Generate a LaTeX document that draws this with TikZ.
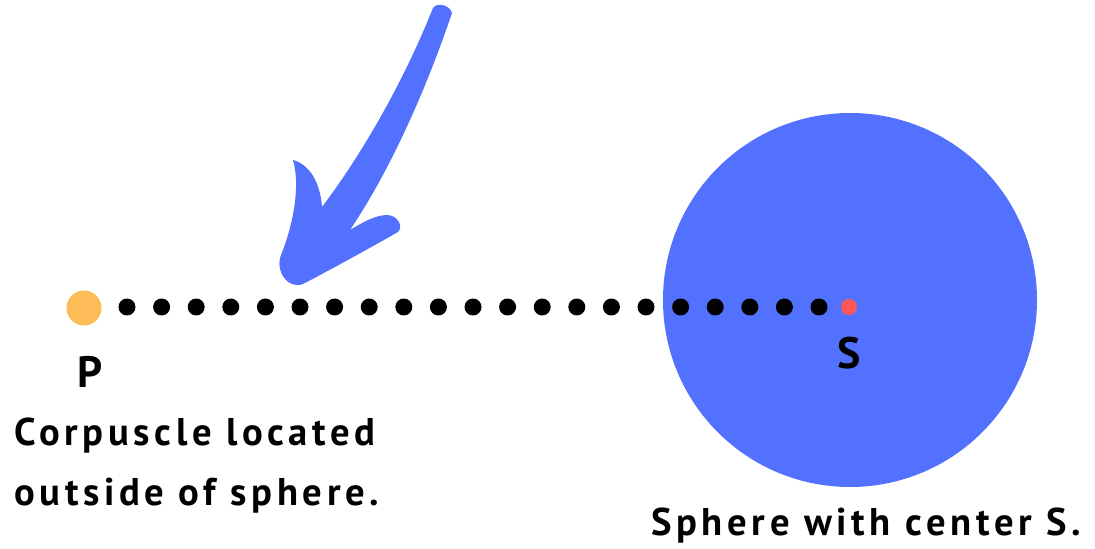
\documentclass[tikz,border=0pt]{standalone}
\usepackage{fontspec}
\setmainfont{PT Sans}[LetterSpace=12]
\usepackage{xcolor}
\usetikzlibrary{positioning}
\definecolor{sphereblue}{HTML}{5271FF}
\definecolor{corporange}{HTML}{FFBD59}
\definecolor{centrered}{HTML}{FF5757}

\begin{document}
\begin{tikzpicture}[x=0.02cm, y=0.02cm,
        corp/.style   ={circle, fill=corporange, inner sep=0pt, minimum size=0.70cm},
        centre/.style ={circle, fill=centrered, inner sep=0pt, minimum size=0.32cm},
        dotmark/.style={circle, fill=black, inner sep=0pt, minimum size=0.34cm},
        lbl/.style    ={font=\fontsize{25}{28}\selectfont\bfseries, inner sep=0pt},
        caption/.style={font=\fontsize{22}{25}\selectfont\bfseries, inner sep=0pt, anchor=base west},
    ]
        \useasboundingbox (0,0) rectangle (1095,548);

        % Sphere
        \fill[sphereblue] (850,248) circle (187);

        % Corpuscle and centre
        \node[corp]   (P) at (84,240)  {};
        \node[centre] (S) at (849,241) {};
        \node[lbl, below right=1.27cm and 0.12cm of P.center, anchor=center] (Plbl) {P};
        \node[lbl, below=0.92cm of S.center, anchor=center] (Slbl) {S};

        % Dotted path from P to S
        \foreach \i in {0,...,20}
            \node[dotmark] (d\i) at (127+34.6*\i,241) {};

        % Hand-drawn arrow
        \fill[sphereblue] (433,540) .. controls (405,470) and (365,398) .. (322,341)
            .. controls (320,368) and (308,384) .. (293,388)
            .. controls (301,360) and (292,320) .. (281,293)
            .. controls (275,278) and (287,258) .. (303,264)
            .. controls (330,278) and (370,300) .. (398,316)
            .. controls (404,322) and (397,333) .. (387,333)
            .. controls (375,333) and (362,325) .. (350,318)
            .. controls (395,385) and (430,470) .. (452,535)
            .. controls (450,543) and (437,546) .. (433,540) -- cycle;

        % Captions
        \node[caption] (capP1) at (14,103) {Corpuscle located};
        \node[caption] (capP2) at (14,43)  {outside of sphere.};
        \node[caption] (capS)  at (651,13) {Sphere with center S.};
    \end{tikzpicture}
\end{document}
